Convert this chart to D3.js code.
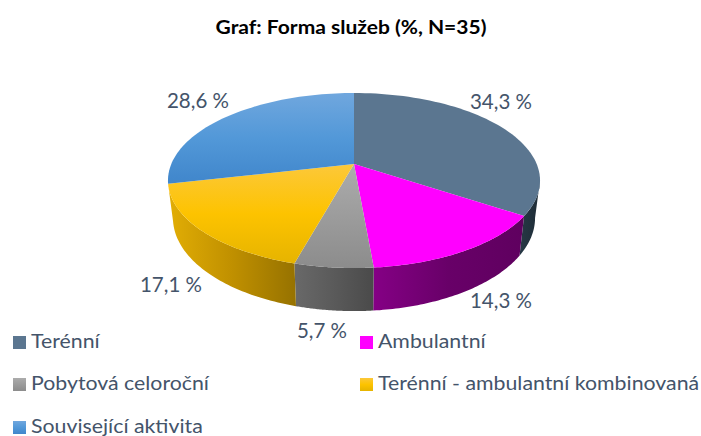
<!DOCTYPE html>
<html><head><meta charset="utf-8">
<script src="https://cdn.jsdelivr.net/npm/d3@7"></script>
<style>html,body{margin:0;padding:0;background:#fff}svg{display:block}text{font-family:Lato,sans-serif}</style>
</head><body><svg id="c" width="701" height="436"></svg>
<script>
const chartTitle = "Graf: Forma služeb (%, N=35)";
const categories = ["Terénní","Ambulantní","Pobytová celoroční","Terénní - ambulantní kombinovaná","Související aktivita"];
const shares = [34.3,14.3,5.7,17.1,28.6];
const shareLabels = ["34,3 %","14,3 %","5,7 %","17,1 %","28,6 %"];
const topStops = [["#5b7690","#5b7690","#5b7690"],["#ff00ff","#ff00ff","#ff00ff"],["#acacac","#9c9c9c","#8c8c8c"],["#fcc83a","#fdc300","#e6b400"],["#70a7de","#5298d8","#4086cb"]];
const wallStops = [["#263845","#22323e","#1f2c36"],["#850085","#680068","#5f005f"],["#696969","#5a5a5a","#4a4a4a"],["#e2ae05","#c09000","#967200"],["#3a6f9f","#325f88","#2a5278"]];
const labelPos = [[501,109],[501,308],[322,338],[171,292],[198,108]];
const legendPos = [[13,342],[360,342],[13,384],[360,384],[13,427]];

const svg = d3.select("#c");
const defs = svg.append("defs");
const cx = 354, k = 0.1886;
const topDisc = {b:182.7, a:84.4, y:164};
const botDisc = {b:177.8, a:89.8, y:200.4};
const proj = (d,t) => { const u=Math.sin(t), v=-Math.cos(t), w=1-k*v; return [cx+d.b*u/w, d.y+d.a*v/w]; };
const arcs = d3.pie().sort(null).value(d=>d)(shares);
const line = d3.line();
const sample = (t0,t1) => d3.range(0,61).map(i=>t0+(t1-t0)*i/60);

const addGrad = (id,stops,horizontal) => {
  const g = defs.append("linearGradient").attr("id",id).attr("x1",0).attr("y1",0)
    .attr("x2",horizontal?1:0).attr("y2",horizontal?0:1);
  stops.forEach((c,j)=>g.append("stop").attr("offset",j/(stops.length-1)).attr("stop-color",c));
};
topStops.forEach((s,i)=>addGrad("t"+i,s,false));
wallStops.forEach((s,i)=>addGrad("w"+i,s,true));

// outer wall: from the right silhouette tangent to the end of the last front-facing slice
const front0 = Math.acos(-k), front1 = arcs[3].endAngle;
arcs.forEach((a,i)=>{
  const t0=Math.max(a.startAngle,front0), t1=Math.min(a.endAngle,front1);
  if(t1<=t0) return;
  const ts=sample(t0,t1);
  const pts=ts.map(t=>proj(topDisc,t)).concat(ts.slice().reverse().map(t=>proj(botDisc,t)));
  svg.append("path").attr("d",line(pts)+"Z").attr("fill",`url(#w${i})`);
});
arcs.forEach((a,i)=>{
  const pts=[[cx,topDisc.y]].concat(sample(a.startAngle,a.endAngle).map(t=>proj(topDisc,t)));
  svg.append("path").attr("d",line(pts)+"Z").attr("fill",`url(#t${i})`);
});

svg.append("text").attr("transform","translate(351,34) scale(1.105,1)").attr("text-anchor","middle")
  .attr("font-size",19).attr("font-weight",700).attr("fill","#000").text(chartTitle);
shareLabels.forEach((s,i)=>svg.append("text").attr("x",labelPos[i][0]).attr("y",labelPos[i][1])
  .attr("text-anchor","middle").attr("font-size",20.5).attr("fill","#44546a").text(s));
categories.forEach((c,i)=>{
  const [x,y]=legendPos[i];
  svg.append("rect").attr("x",x).attr("y",y-6).attr("width",13).attr("height",13).attr("fill",`url(#t${i})`);
  svg.append("text").attr("transform",`translate(${x+18},${y+6}) scale(1.065,1)`)
    .attr("font-size",20).attr("fill","#44546a").text(c);
});
</script></body></html>
